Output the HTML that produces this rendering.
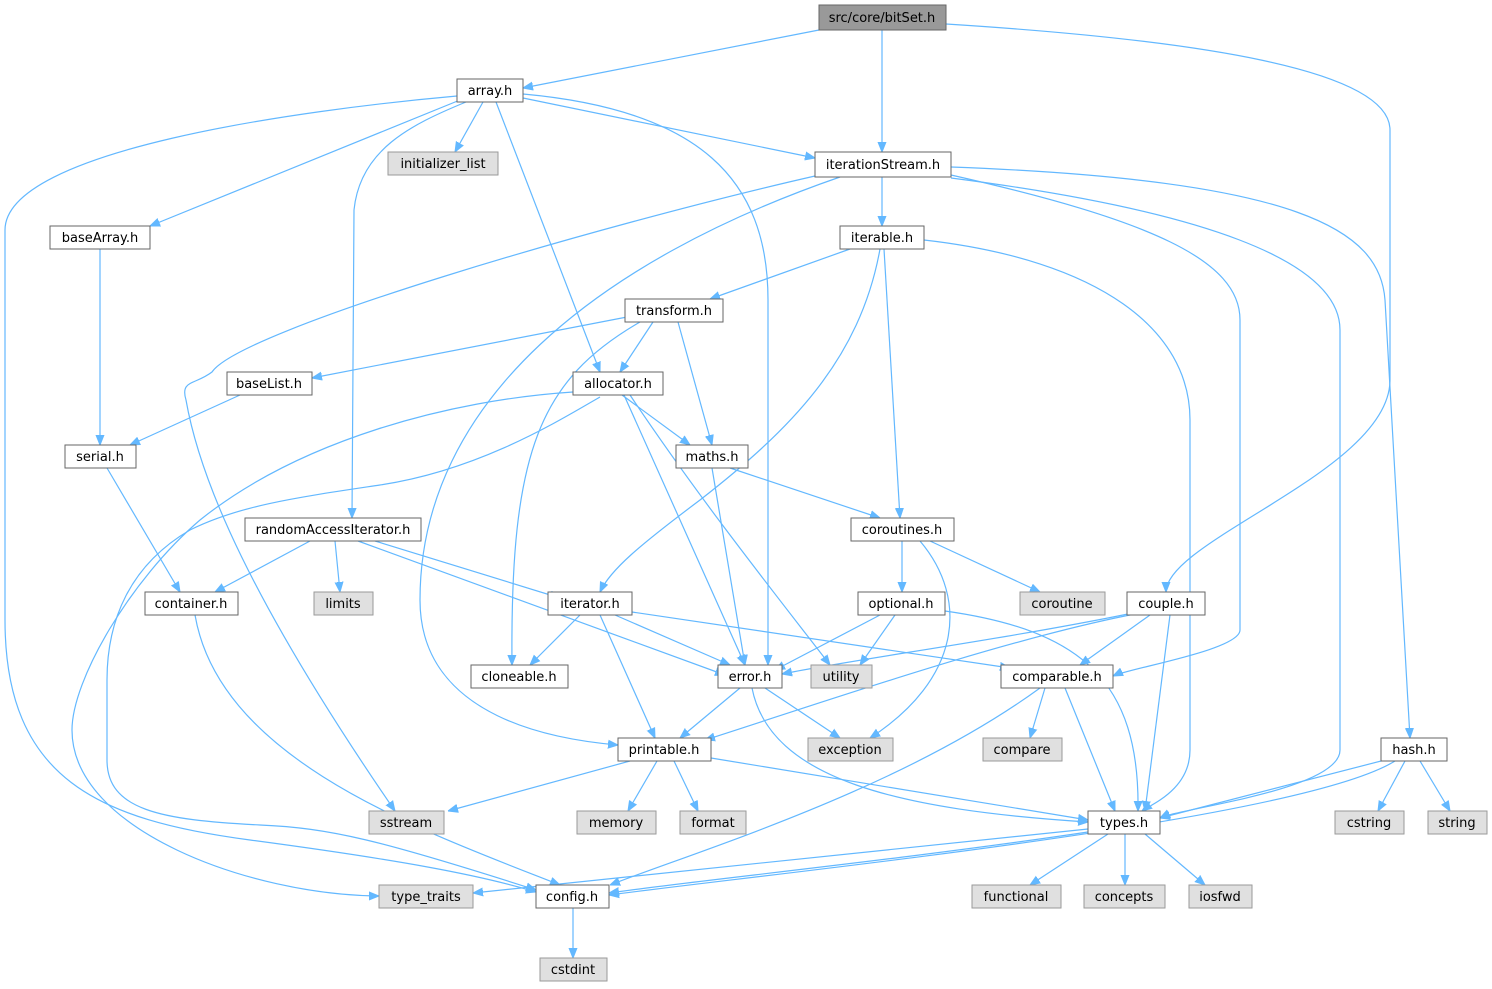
<!DOCTYPE html>
<html><head><meta charset="utf-8"><style>
body{margin:0;background:#fff;width:1492px;height:989px;overflow:hidden}
svg{display:block}
text{font-family:"DejaVu Sans","Liberation Sans",sans-serif;font-size:13px;fill:#000;text-anchor:middle}
.n rect{fill:#fff;stroke:#666;stroke-width:1}
.g rect{fill:#e0e0e0;stroke:#999;stroke-width:1}
.e path{fill:none;stroke:#63b8ff;stroke-width:1.2}
</style></head><body>
<svg width="1492" height="989" viewBox="0 0 1492 989">
<defs><marker id="a" viewBox="0 0 10 10" refX="10" refY="5" markerWidth="10" markerHeight="10" markerUnits="userSpaceOnUse" orient="auto"><path d="M0,1 L10,5 L0,9 z" fill="#63b8ff" stroke="#63b8ff"/></marker></defs>
<g class="e">
<path d="M819,30 L523,88" marker-end="url(#a)"/>
<path d="M882,30 L882,152" marker-end="url(#a)"/>
<path d="M946,24 C1200,40 1390,70 1390,130 L1390,380 C1390,470 1166,540 1166,592" marker-end="url(#a)"/>
<path d="M483,102 L455,152" marker-end="url(#a)"/>
<path d="M523,98 L815,158" marker-end="url(#a)"/>
<path d="M460,100 L150,226" marker-end="url(#a)"/>
<path d="M496,102 L600,372" marker-end="url(#a)"/>
<path d="M523,94 C700,110 768,180 768,300 L768,665" marker-end="url(#a)"/>
<path d="M466,102 C410,125 360,150 354,210 L352,518" marker-end="url(#a)"/>
<path d="M457,96 C300,110 5,150 5,230 L5,620 C5,780 100,820 250,840 C400,860 480,875 536,892" marker-end="url(#a)"/>
<path d="M882,177 L882,226" marker-end="url(#a)"/>
<path d="M815,176 C600,225 240,330 212,372 C195,385 180,380 186,400 C200,480 250,600 395,811" marker-end="url(#a)"/>
<path d="M840,177 C600,260 420,400 420,600 C420,720 560,740 618,745" marker-end="url(#a)"/>
<path d="M951,175 C1150,220 1240,260 1240,320 L1240,630 C1240,650 1130,668 1113,676" marker-end="url(#a)"/>
<path d="M951,178 C1200,210 1340,260 1340,330 L1340,750 C1340,790 1180,808 1160,818" marker-end="url(#a)"/>
<path d="M951,167 C1300,180 1380,230 1385,300 L1410,738" marker-end="url(#a)"/>
<path d="M850,249 L710,299" marker-end="url(#a)"/>
<path d="M880,249 C860,360 790,430 700,500 C640,545 610,570 600,592" marker-end="url(#a)"/>
<path d="M884,249 L900,518" marker-end="url(#a)"/>
<path d="M924,240 C1100,260 1190,330 1190,420 L1190,750 C1190,790 1150,805 1142,811" marker-end="url(#a)"/>
<path d="M627,317 L312,378" marker-end="url(#a)"/>
<path d="M653,322 L620,372" marker-end="url(#a)"/>
<path d="M678,322 L712,445" marker-end="url(#a)"/>
<path d="M640,322 C540,380 510,450 512,665" marker-end="url(#a)"/>
<path d="M240,395 L130,445" marker-end="url(#a)"/>
<path d="M100,249 L100,445" marker-end="url(#a)"/>
<path d="M622,395 L690,445" marker-end="url(#a)"/>
<path d="M624,395 L745,665" marker-end="url(#a)"/>
<path d="M630,395 C700,500 780,600 830,665" marker-end="url(#a)"/>
<path d="M573,392 C450,400 300,440 200,520 C130,580 72,680 72,730 C72,830 250,895 379,896" marker-end="url(#a)"/>
<path d="M600,397 C560,420 480,470 380,485 C300,497 240,505 190,530 C130,565 107,620 107,680 L107,760 C107,810 160,820 260,825 C330,828 380,840 536,890" marker-end="url(#a)"/>
<path d="M107,468 L180,592" marker-end="url(#a)"/>
<path d="M712,468 L745,665" marker-end="url(#a)"/>
<path d="M730,468 L880,518" marker-end="url(#a)"/>
<path d="M310,541 L215,592" marker-end="url(#a)"/>
<path d="M335,541 L340,592" marker-end="url(#a)"/>
<path d="M375,541 L560,598" marker-end="url(#a)"/>
<path d="M358,541 L725,675" marker-end="url(#a)"/>
<path d="M902,541 L902,592" marker-end="url(#a)"/>
<path d="M930,541 L1040,592" marker-end="url(#a)"/>
<path d="M920,541 C970,600 960,680 870,738" marker-end="url(#a)"/>
<path d="M880,615 L775,670" marker-end="url(#a)"/>
<path d="M895,615 L860,665" marker-end="url(#a)"/>
<path d="M945,611 C1080,630 1140,680 1138,811" marker-end="url(#a)"/>
<path d="M1128,614 C1000,640 850,660 782,674" marker-end="url(#a)"/>
<path d="M1150,615 L1080,665" marker-end="url(#a)"/>
<path d="M1170,615 L1145,811" marker-end="url(#a)"/>
<path d="M1135,614 C1000,640 800,710 705,740" marker-end="url(#a)"/>
<path d="M580,615 L530,665" marker-end="url(#a)"/>
<path d="M615,615 L730,665" marker-end="url(#a)"/>
<path d="M600,615 L655,738" marker-end="url(#a)"/>
<path d="M632,612 L1010,668" marker-end="url(#a)"/>
<path d="M195,615 C220,760 420,830 560,885" marker-end="url(#a)"/>
<path d="M740,688 L680,738" marker-end="url(#a)"/>
<path d="M765,688 L840,738" marker-end="url(#a)"/>
<path d="M752,688 C770,780 900,810 1088,822" marker-end="url(#a)"/>
<path d="M1045,688 L1030,738" marker-end="url(#a)"/>
<path d="M1065,688 L1115,811" marker-end="url(#a)"/>
<path d="M1040,688 C900,790 700,850 610,885" marker-end="url(#a)"/>
<path d="M630,761 L448,811" marker-end="url(#a)"/>
<path d="M657,761 L628,811" marker-end="url(#a)"/>
<path d="M674,761 L698,811" marker-end="url(#a)"/>
<path d="M711,758 L1088,820" marker-end="url(#a)"/>
<path d="M1385,760 L1160,818" marker-end="url(#a)"/>
<path d="M1405,761 L1378,811" marker-end="url(#a)"/>
<path d="M1420,761 L1450,811" marker-end="url(#a)"/>
<path d="M1395,761 C1300,820 800,870 609,895" marker-end="url(#a)"/>
<path d="M1088,829 L473,893" marker-end="url(#a)"/>
<path d="M1088,832 C900,860 700,880 609,893" marker-end="url(#a)"/>
<path d="M1108,834 L1030,885" marker-end="url(#a)"/>
<path d="M1125,834 L1125,885" marker-end="url(#a)"/>
<path d="M1145,834 L1205,885" marker-end="url(#a)"/>
<path d="M573,908 L573,958" marker-end="url(#a)"/>
</g>
<g><rect x="819" y="5" width="127" height="25" fill="#999" stroke="#666"/><text x="882" y="22">src/core/bitSet.h</text></g>
<g class="n"><rect x="457" y="79" width="66" height="23"/><text x="490" y="95">array.h</text></g>
<g class="g"><rect x="388" y="152" width="110" height="23"/><text x="443" y="168">initializer_list</text></g>
<g class="n"><rect x="815" y="152" width="136" height="25"/><text x="883" y="169">iterationStream.h</text></g>
<g class="n"><rect x="50" y="226" width="100" height="23"/><text x="100" y="242">baseArray.h</text></g>
<g class="n"><rect x="840" y="226" width="84" height="23"/><text x="882" y="242">iterable.h</text></g>
<g class="n"><rect x="625" y="299" width="98" height="23"/><text x="674" y="315">transform.h</text></g>
<g class="n"><rect x="227" y="372" width="85" height="23"/><text x="269" y="388">baseList.h</text></g>
<g class="n"><rect x="573" y="372" width="90" height="23"/><text x="618" y="388">allocator.h</text></g>
<g class="n"><rect x="65" y="445" width="71" height="23"/><text x="100" y="461">serial.h</text></g>
<g class="n"><rect x="676" y="445" width="72" height="23"/><text x="712" y="461">maths.h</text></g>
<g class="n"><rect x="245" y="518" width="176" height="23"/><text x="333" y="534">randomAccessIterator.h</text></g>
<g class="n"><rect x="851" y="518" width="103" height="23"/><text x="902" y="534">coroutines.h</text></g>
<g class="n"><rect x="145" y="592" width="93" height="23"/><text x="191" y="608">container.h</text></g>
<g class="g"><rect x="314" y="592" width="59" height="23"/><text x="343" y="608">limits</text></g>
<g class="n"><rect x="548" y="592" width="84" height="23"/><text x="590" y="608">iterator.h</text></g>
<g class="n"><rect x="858" y="592" width="87" height="23"/><text x="901" y="608">optional.h</text></g>
<g class="g"><rect x="1020" y="592" width="85" height="23"/><text x="1062" y="608">coroutine</text></g>
<g class="n"><rect x="1127" y="592" width="78" height="23"/><text x="1166" y="608">couple.h</text></g>
<g class="n"><rect x="471" y="665" width="97" height="23"/><text x="519" y="681">cloneable.h</text></g>
<g class="n"><rect x="718" y="665" width="64" height="23"/><text x="750" y="681">error.h</text></g>
<g class="g"><rect x="811" y="665" width="61" height="23"/><text x="841" y="681">utility</text></g>
<g class="n"><rect x="1001" y="665" width="112" height="23"/><text x="1057" y="681">comparable.h</text></g>
<g class="n"><rect x="618" y="738" width="93" height="23"/><text x="664" y="754">printable.h</text></g>
<g class="g"><rect x="808" y="738" width="85" height="23"/><text x="850" y="754">exception</text></g>
<g class="g"><rect x="983" y="738" width="79" height="23"/><text x="1022" y="754">compare</text></g>
<g class="n"><rect x="1381" y="738" width="66" height="23"/><text x="1414" y="754">hash.h</text></g>
<g class="g"><rect x="369" y="811" width="75" height="23"/><text x="406" y="827">sstream</text></g>
<g class="g"><rect x="577" y="811" width="79" height="23"/><text x="616" y="827">memory</text></g>
<g class="g"><rect x="680" y="811" width="66" height="23"/><text x="713" y="827">format</text></g>
<g class="n"><rect x="1088" y="811" width="72" height="23"/><text x="1124" y="827">types.h</text></g>
<g class="g"><rect x="1335" y="811" width="69" height="23"/><text x="1369" y="827">cstring</text></g>
<g class="g"><rect x="1428" y="811" width="59" height="23"/><text x="1457" y="827">string</text></g>
<g class="g"><rect x="379" y="885" width="94" height="23"/><text x="426" y="901">type_traits</text></g>
<g class="n"><rect x="536" y="885" width="73" height="23"/><text x="572" y="901">config.h</text></g>
<g class="g"><rect x="972" y="885" width="89" height="23"/><text x="1016" y="901">functional</text></g>
<g class="g"><rect x="1084" y="885" width="81" height="23"/><text x="1124" y="901">concepts</text></g>
<g class="g"><rect x="1189" y="885" width="63" height="23"/><text x="1220" y="901">iosfwd</text></g>
<g class="g"><rect x="540" y="958" width="67" height="23"/><text x="573" y="974">cstdint</text></g>
</svg>
</body></html>
